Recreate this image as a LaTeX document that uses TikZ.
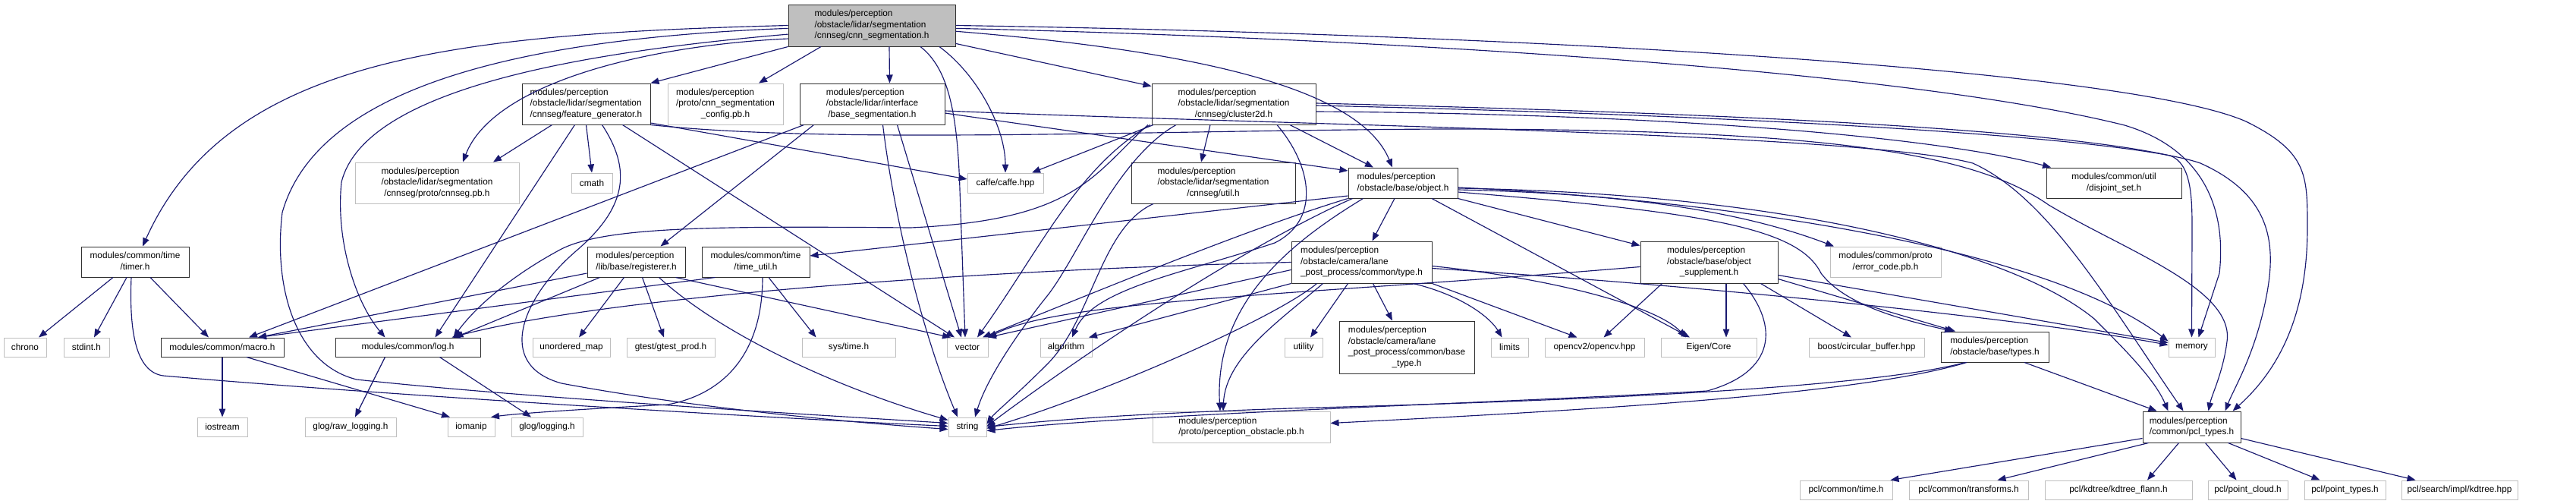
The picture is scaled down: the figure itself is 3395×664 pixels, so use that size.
\documentclass[tikz,border=0pt]{standalone}
\usepackage{fontspec}
\setmainfont{Liberation Sans}
\usetikzlibrary{arrows.meta}
\definecolor{edgec}{HTML}{191970}
\definecolor{greyb}{HTML}{BFBFBF}
\definecolor{bord}{HTML}{303030}
\newcommand\nfont{\fontsize{11.8}{14.5}\selectfont}
\newcommand\lb[2]{\begin{tabular}{@{}l@{}}#1\\\multicolumn{1}{@{}c@{}}{#2}\end{tabular}}
\begin{document}
\begin{tikzpicture}[x=1pt,y=-1pt,
  box/.style={draw=bord, line width=1pt, fill=white, inner sep=0pt, font=\nfont},
  ext/.style={box, draw=greyb},
  e/.style={draw=edgec, line width=1.15pt, -{Triangle[length=11pt,width=8.5pt]}}]
\fill[white] (0,0) rectangle (3395,664);
\useasboundingbox (0,0) rectangle (3395,664);
% row 1
\node[box, fill=greyb, minimum width=220pt, minimum height=55pt] (root) at (1149,33.5) {\lb{modules/perception\\/obstacle/lidar/segmentation}{/cnnseg/cnn\_segmentation.h}};
% row 2
\node[box, minimum width=169pt, minimum height=54pt] (fg) at (772.5,137) {\lb{modules/perception\\/obstacle/lidar/segmentation}{/cnnseg/feature\_generator.h}};
\node[ext, minimum width=152pt, minimum height=54pt] (cfg) at (956,137) {\lb{modules/perception\\/proto/cnn\_segmentation}{\_config.pb.h}};
\node[box, minimum width=191pt, minimum height=54pt] (bs) at (1149.5,137) {\lb{modules/perception\\/obstacle/lidar/interface}{/base\_segmentation.h}};
\node[box, minimum width=216pt, minimum height=54pt] (c2d) at (1626,137) {\lb{modules/perception\\/obstacle/lidar/segmentation}{/cnnseg/cluster2d.h}};
% row 3
\node[ext, minimum width=216pt, minimum height=54pt] (pb) at (576,241) {\lb{modules/perception\\/obstacle/lidar/segmentation}{/cnnseg/proto/cnnseg.pb.h}};
\node[ext, minimum width=54pt, minimum height=26pt] (cmath) at (780,241) {cmath};
\node[ext, minimum width=100pt, minimum height=26pt] (caffe) at (1325,241) {caffe/caffe.hpp};
\node[box, minimum width=216pt, minimum height=54pt] (util) at (1599,241) {\lb{modules/perception\\/obstacle/lidar/segmentation}{/cnnseg/util.h}};
\node[box, minimum width=144pt, minimum height=40pt] (obj) at (1849,241) {\lb{modules/perception}{/obstacle/base/object.h}};
\node[box, minimum width=178pt, minimum height=40pt] (dj) at (2786,241) {\lb{modules/common/util}{/disjoint\_set.h}};
% row 4
\node[box, minimum width=142pt, minimum height=40pt] (timer) at (178,345) {\lb{modules/common/time}{/timer.h}};
\node[box, minimum width=129pt, minimum height=40pt] (reg) at (838.5,345) {\lb{modules/perception}{/lib/base/registerer.h}};
\node[box, minimum width=142pt, minimum height=40pt] (tu) at (996,345) {\lb{modules/common/time}{/time\_util.h}};
\node[box, minimum width=185pt, minimum height=55pt] (type) at (1794.5,345.5) {\lb{modules/perception\\/obstacle/camera/lane}{\_post\_process/common/type.h}};
\node[box, minimum width=181pt, minimum height=55pt] (sup) at (2252.5,345.5) {\lb{modules/perception\\/obstacle/base/object}{\_supplement.h}};
\node[ext, minimum width=146pt, minimum height=40pt] (err) at (2485,345) {\lb{modules/common/proto}{/error\_code.pb.h}};
% row 5
\node[ext, minimum width=56pt, minimum height=25pt] (chrono) at (33,457.5) {chrono};
\node[ext, minimum width=60pt, minimum height=25pt] (stdint) at (114,457.5) {stdint.h};
\node[box, minimum width=162pt, minimum height=25pt] (macro) at (293,457.5) {modules/common/macro.h};
\node[box, minimum width=191pt, minimum height=25pt] (log) at (537.5,457.5) {modules/common/log.h};
\node[ext, minimum width=102pt, minimum height=25pt] (umap) at (753,457.5) {unordered\_map};
\node[ext, minimum width=116pt, minimum height=25pt] (gtest) at (884,457.5) {gtest/gtest\_prod.h};
\node[ext, minimum width=123pt, minimum height=25pt] (systime) at (1118.5,457.5) {sys/time.h};
\node[ext, minimum width=54pt, minimum height=25pt] (vector) at (1275,457.5) {vector};
\node[ext, minimum width=68pt, minimum height=25pt] (algorithm) at (1405,457.5) {algorithm};
\node[ext, minimum width=50pt, minimum height=25pt] (utility) at (1718,457.5) {utility};
\node[box, minimum width=178pt, minimum height=69pt] (btype) at (1854,457.5) {\lb{modules/perception\\/obstacle/camera/lane\\\_post\_process/common/base}{\_type.h}};
\node[ext, minimum width=49pt, minimum height=25pt] (limits) at (1989.5,457.5) {limits};
\node[ext, minimum width=131pt, minimum height=25pt] (opencv) at (2101.5,457.5) {opencv2/opencv.hpp};
\node[ext, minimum width=126pt, minimum height=25pt] (eigen) at (2252,457.5) {Eigen/Core};
\node[ext, minimum width=152pt, minimum height=25pt] (boost) at (2460,457.5) {boost/circular\_buffer.hpp};
\node[box, minimum width=142pt, minimum height=40pt] (types) at (2629,457) {\lb{modules/perception}{/obstacle/base/types.h}};
\node[ext, minimum width=61pt, minimum height=25pt] (memory) at (2888.5,457.5) {memory};
% row 6
\node[ext, minimum width=66pt, minimum height=25pt] (iostream) at (293,562.5) {iostream};
\node[ext, minimum width=120pt, minimum height=25pt] (rawlog) at (462,562.5) {glog/raw\_logging.h};
\node[ext, minimum width=62pt, minimum height=25pt] (iomanip) at (621,562.5) {iomanip};
\node[ext, minimum width=94pt, minimum height=25pt] (glog) at (721,562.5) {glog/logging.h};
\node[ext, minimum width=50pt, minimum height=25pt] (string) at (1275,562.5) {string};
\node[ext, minimum width=234pt, minimum height=41pt] (pobs) at (1636,562.5) {\lb{modules/perception}{/proto/perception\_obstacle.pb.h}};
\node[box, minimum width=129pt, minimum height=41pt] (pcl) at (2888.5,562.5) {\lb{modules/perception}{/common/pcl\_types.h}};
% row 7
\node[ext, minimum width=122pt, minimum height=25pt] (pcltime) at (2433,645.5) {pcl/common/time.h};
\node[ext, minimum width=157pt, minimum height=25pt] (pcltrans) at (2594.5,645.5) {pcl/common/transforms.h};
\node[ext, minimum width=194pt, minimum height=25pt] (kdflann) at (2792,645.5) {pcl/kdtree/kdtree\_flann.h};
\node[ext, minimum width=105pt, minimum height=25pt] (pcloud) at (2962.5,645.5) {pcl/point\_cloud.h};
\node[ext, minimum width=107pt, minimum height=25pt] (ptypes) at (3090.5,645.5) {pcl/point\_types.h};
\node[ext, minimum width=153pt, minimum height=25pt] (kdtree) at (3241.5,645.5) {pcl/search/impl/kdtree.hpp};

% ---- edges from root
\draw[e] (root.180) .. controls (600,45) and (300,75) .. ([xshift=10pt]timer.north);
\draw[e] (root.182) .. controls (700,50) and (420,110) .. (372,280) .. controls (360,380) and (390,480) .. (470,500) .. controls (700,525) and (1100,548) .. ([yshift=5pt]string.west);
\draw[e] (root.186) .. controls (750,70) and (480,120) .. (450,240) .. controls (442,320) and (470,400) .. ([xshift=-30pt]log.north);
\draw[e] (root.189) .. controls (850,60) and (650,110) .. ([xshift=34pt]pb.north);
\draw[e] (root.south west) -- (fg.north east);
\draw[e] ([xshift=-67pt]root.south) -- ([xshift=44pt]cfg.north);
\draw[e] ([xshift=23pt]root.south) -- ([xshift=23pt]bs.north);
\draw[e] ([xshift=64pt]root.south) .. controls (1250,90) and (1262,150) .. (1265,250) -- ([xshift=-3pt]vector.north);
\draw[e] ([xshift=89pt]root.south) .. controls (1290,100) and (1325,170) .. (caffe.north);
\draw[e] (root) -- (c2d);
\draw[e] (root.356) .. controls (1550,65) and (1790,110) .. ([xshift=-14pt]obj.north);
\draw[e] (root.358) .. controls (1800,50) and (2500,90) .. (2800,165) .. controls (2900,195) and (2935,270) .. (2925,360) -- ([xshift=9pt]memory.north);
\draw[e] (root.east) .. controls (2000,45) and (2800,90) .. (2960,160) .. controls (3041,200) and (3041,230) .. (3041,300) .. controls (3041,420) and (3000,490) .. ([xshift=-11pt]pcl.north east);
% ---- feature_generator
\draw[e] ([xshift=-45pt]fg.south) -- ([xshift=74pt]pb.north);
\draw[e] ([xshift=-15pt]fg.south) -- ([xshift=36pt]log.north);
\draw[e] (fg.south) -- (cmath.north);
\draw[e] ([xshift=21pt]fg.south) .. controls (830,220) and (830,270) .. (760,330) .. controls (690,390) and (650,480) .. (740,505) .. controls (900,535) and (1100,555) .. ([yshift=-3pt]string.west);
\draw[e] ([xshift=48pt]fg.south) -- ([xshift=-17pt]vector.north);
\draw[e] ([yshift=-25pt]fg.east) -- ([yshift=5pt]caffe.west);
\draw[e] (fg.south east) .. controls (1100,190) and (1500,172) .. (1900,170) .. controls (2400,170) and (2600,200) .. (2700,270) .. controls (2800,330) and (2945,380) .. (2935,450) .. controls (2930,490) and (2915,520) .. ([xshift=-43pt]pcl.north east);
% ---- base_segmentation
\draw[e] ([xshift=6pt]bs.south west) -- ([xshift=35pt]macro.north);
\draw[e] ([xshift=19pt]bs.south west) -- ([xshift=32pt]reg.north);
\draw[e] ([xshift=14pt]bs.south) .. controls (1180,300) and (1220,450) .. ([xshift=-13pt]string.north);
\draw[e] ([xshift=33pt]bs.south) -- ([xshift=-8pt]vector.north);
\draw[e] ([yshift=-12pt]bs.east) -- ([yshift=16pt]obj.west);
\draw[e] ([yshift=-9pt]bs.east) .. controls (1700,165) and (2450,175) .. (2600,215) .. controls (2700,260) and (2780,400) .. ([xshift=-11pt]pcl.north);
% ---- cluster2d
\draw[e] ([xshift=-106pt]c2d.south) -- ([xshift=35pt]caffe.north);
\draw[e] ([xshift=-113pt]c2d.south) .. controls (1440,230) and (1420,290) .. (1200,300) .. controls (950,298) and (800,298) .. (740,328) .. controls (680,360) and (630,400) .. ([xshift=60pt]log.north);
\draw[e] ([xshift=-110pt]c2d.south) .. controls (1420,220) and (1370,330) .. ([xshift=13pt]vector.north);
\draw[e] ([xshift=-76pt]c2d.south) .. controls (1470,210) and (1420,340) .. (1380,390) .. controls (1340,440) and (1300,500) .. ([xshift=10pt]string.north);
\draw[e] ([xshift=-31pt]c2d.south) -- ([xshift=-16pt]util.north);
\draw[e] ([xshift=57pt]c2d.south) .. controls (1730,220) and (1740,290) .. (1680,320) .. controls (1560,360) and (1440,380) .. ([xshift=8pt]algorithm.north);
\draw[e] ([xshift=74pt]c2d.south) -- ([xshift=-39pt]obj.north);
\draw[e] ([yshift=-10pt]c2d.east) .. controls (2200,150) and (2550,180) .. ([xshift=-83pt]dj.north);
\draw[e] ([yshift=1pt]c2d.east) .. controls (2300,150) and (2700,170) .. (2860,205) .. controls (2888,215) and (2889,260) .. (2889,300) -- (memory.north);
\draw[e] ([yshift=-2pt]c2d.east) .. controls (2300,152) and (2800,180) .. (2900,215) .. controls (3000,260) and (3000,330) .. (2985,400) .. controls (2970,470) and (2945,510) .. ([xshift=-21pt]pcl.north east);
% ---- util
\draw[e] ([xshift=-79pt]util.south) .. controls (1450,300) and (1440,420) .. (1380,480) .. controls (1340,520) and (1310,545) .. ([yshift=4pt]string.east);
% ---- object
\draw[e] ([yshift=-17pt]obj.west) -- ([yshift=8pt]tu.east);
\draw[e] (obj.south west) .. controls (1650,300) and (1480,370) .. ([xshift=20pt]vector.north);
\draw[e] ([xshift=6pt]obj.south west) .. controls (1650,320) and (1450,450) .. ([yshift=1pt]string.east);
\draw[e] ([xshift=20pt]obj.south west) .. controls (1700,320) and (1600,400) .. ([xshift=-28pt]pobs.north);
\draw[e] ([xshift=-11pt]obj.south) -- ([xshift=14pt]type.north);
\draw[e] (obj.south east) -- ([yshift=-6pt]sup.north west);
\draw[e] ([yshift=-9pt]obj.east) .. controls (2150,255) and (2300,280) .. ([xshift=-68pt]err.north);
\draw[e] ([xshift=38pt]obj.south) -- ([xshift=-25pt]eigen.north);
\draw[e] ([yshift=-6pt]obj.east) .. controls (2300,265) and (2700,330) .. ([yshift=8pt]memory.west);
\draw[e] ([yshift=-7pt]obj.east) .. controls (2350,255) and (2650,330) .. (2760,420) .. controls (2800,460) and (2840,500) .. ([xshift=-31pt]pcl.north);
\draw[e] ([yshift=-12pt]obj.east) .. controls (2250,280) and (2370,300) .. (2400,360) .. controls (2430,400) and (2500,420) .. ([xshift=-55pt]types.north);
% ---- type.h
\draw[e] (type.west) .. controls (1300,355) and (800,390) .. ([xshift=58pt]log.north);
\draw[e] ([yshift=-10pt]type.west) -- ([xshift=27pt]vector.north);
\draw[e] (type.south west) -- ([xshift=30pt]algorithm.north);
\draw[e] ([xshift=-59pt]type.south) .. controls (1680,420) and (1450,520) .. ([yshift=-2pt]string.east);
\draw[e] ([xshift=-51pt]type.south) .. controls (1690,420) and (1615,470) .. ([xshift=-24pt]pobs.north);
\draw[e] ([xshift=-18pt]type.south) -- ([xshift=9pt]utility.north);
\draw[e] ([xshift=15pt]type.south) -- ([xshift=-19pt]btype.north);
\draw[e] ([xshift=68pt]type.south) .. controls (1930,390) and (1965,420) .. ([xshift=-10pt]limits.north);
\draw[e] (type.south east) -- ([xshift=-23pt]opencv.north);
\draw[e] ([yshift=-5pt]type.east) .. controls (2030,365) and (2180,400) .. ([xshift=-30pt]eigen.north);
\draw[e] ([yshift=-8pt]type.east) .. controls (2300,380) and (2700,425) .. ([yshift=3pt]memory.west);
% ---- object_supplement
\draw[e] ([yshift=-6pt]sup.west) .. controls (1700,390) and (1400,395) .. (vector.north east);
\draw[e] ([xshift=-62pt]sup.south) -- ([xshift=12pt]opencv.north);
\draw[e] ([xshift=22.5pt]sup.south) -- ([xshift=23pt]eigen.north);
\draw[e] ([xshift=68pt]sup.south) -- ([xshift=-20pt]boost.north);
\draw[e] ([yshift=-22pt]sup.east) -- ([xshift=-52pt]types.north);
\draw[e] ([yshift=-17pt]sup.east) -- ([yshift=6pt]memory.west);
\draw[e] ([xshift=45pt]sup.south) .. controls (2345,430) and (2340,490) .. (2250,515) .. controls (2000,530) and (1500,545) .. ([yshift=-5pt]string.east);
% ---- types.h
\draw[e] ([xshift=-39pt]types.south) .. controls (2450,515) and (2000,530) .. (1700,538) .. controls (1500,545) and (1400,552) .. (string.east);
\draw[e] ([xshift=-37pt]types.south) .. controls (2450,520) and (2100,540) .. ([yshift=5pt]pobs.east);
\draw[e] ([xshift=39pt]types.south) -- ([xshift=-46pt]pcl.north);
% ---- timer
\draw[e] ([xshift=-29pt]timer.south) -- ([xshift=18pt]chrono.north);
\draw[e] ([xshift=-11pt]timer.south) -- ([xshift=10pt]stdint.north);
\draw[e] ([xshift=20pt]timer.south) -- ([xshift=-18pt]macro.north);
\draw[e] ([xshift=-5pt]timer.south) .. controls (170,440) and (180,490) .. (215,495) .. controls (500,520) and (1000,550) .. ([yshift=1pt]string.west);
% ---- registerer
\draw[e] ([yshift=-15pt]reg.west) -- ([xshift=47pt]macro.north);
\draw[e] ([xshift=-48pt]reg.south) -- ([xshift=62pt]log.north);
\draw[e] ([xshift=-16pt]reg.south) -- ([xshift=10pt]umap.north);
\draw[e] ([xshift=8pt]reg.south) -- ([xshift=-9pt]gtest.north);
\draw[e] ([xshift=30pt]reg.south) .. controls (950,440) and (1100,510) .. ([yshift=9pt]string.west);
\draw[e] ([xshift=52pt]reg.south) -- ([xshift=-22pt]vector.north);
% ---- time_util
\draw[e] ([xshift=18pt]tu.south west) -- ([xshift=47pt]macro.north);
\draw[e] ([xshift=9pt]tu.south) .. controls (1005,470) and (950,520) .. (880,533) .. controls (750,540) and (680,545) .. ([xshift=26pt]iomanip.north);
\draw[e] ([xshift=17pt]tu.south) -- ([xshift=-43pt]systime.north);
% ---- macro, log
\draw[e] (macro.south) -- (iostream.north);
\draw[e] ([xshift=32pt]macro.south) -- ([xshift=-28pt]iomanip.north);
\draw[e] ([xshift=-30pt]log.south) -- ([xshift=6pt]rawlog.north);
\draw[e] ([xshift=42pt]log.south) -- ([xshift=-21pt]glog.north);
% ---- pcl_types
\draw[e] ([yshift=6pt]pcl.south west) -- ([xshift=-3pt]pcltime.north east);
\draw[e] ([xshift=8pt]pcl.south west) -- ([xshift=38pt]pcltrans.north);
\draw[e] ([xshift=-17pt]pcl.south) -- ([xshift=38pt]kdflann.north);
\draw[e] ([xshift=18pt]pcl.south) -- ([xshift=-15pt]pcloud.north);
\draw[e] ([xshift=48pt]pcl.south) -- ([xshift=-33pt]ptypes.north);
\draw[e] ([yshift=-15pt]pcl.east) -- ([xshift=-58pt]kdtree.north);
\end{tikzpicture}
\end{document}
